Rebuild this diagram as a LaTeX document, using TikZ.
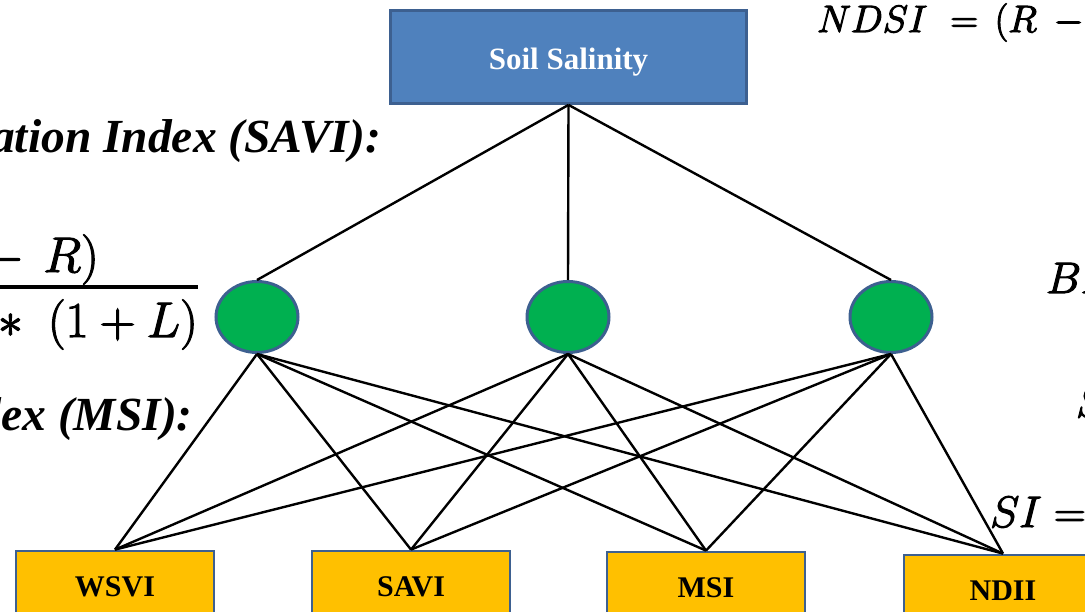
\RequirePackage{fix-cm}
\documentclass[tikz,border=0pt]{standalone}
\usepackage[no-math]{fontspec}
\setmainfont{Liberation Serif}
\usetikzlibrary{shapes.geometric}

\definecolor{soilblue}{HTML}{4F81BD}
\definecolor{edgeblue}{HTML}{3D6090}
\definecolor{hubgreen}{HTML}{00B050}
\definecolor{boxgold}{HTML}{FFC000}

% formulas set with a thin outline so the glyphs come out a little heavier
\newcommand\heavyglyphs[1]{%
  \special{pdf:literal direct 2 Tr 1.1 w}#1\special{pdf:literal direct 0 Tr}}

\tikzset{
  soilbox/.style={draw=edgeblue, line width=2.8, fill=soilblue, inner sep=0,
    minimum width=356, minimum height=93, text=white,
    text height=26, text depth=0,
    font=\bfseries\fontsize{31}{33}\selectfont},
  hub/.style={ellipse, draw=edgeblue, line width=3, fill=hubgreen, inner sep=0,
    minimum width=82, minimum height=71},
  idxbox/.style={draw=edgeblue, line width=2.8, fill=boxgold, inner sep=0,
    minimum width=198, minimum height=72,
    font=\bfseries\fontsize{30}{32}\selectfont},
  link/.style={draw=black, line width=2.4},
  slidehead/.style={font=\bfseries\itshape\fontsize{47.5}{52}\selectfont, inner sep=0},
  slidemath/.style={inner sep=0},
}

\begin{document}
\begin{tikzpicture}[x=1pt, y=-1pt]
  \useasboundingbox (0,0) rectangle (1085,612);
  \clip (0,0) rectangle (1085,612);

  % text of the slide behind the diagram
  \node[slidehead, anchor=base east] (savihead) at (381,153)
    {Soil Adjusted Vegetation Index (SAVI):};
  \node[slidehead, anchor=base east] (msihead) at (193,430)
    {Moisture Stress Index (MSI):};
  \node[slidemath, anchor=base east, font=\fontsize{50}{54}\selectfont]
    (savinum) at (99,272) {\heavyglyphs{$(NIR\mskip3mu-\mskip3mu R)$}};
  \draw[line width=3.4] (0,287) -- (198,287);
  \node[slidemath, anchor=base east, font=\fontsize{50}{54}\selectfont]
    (saviden) at (198,337) {\heavyglyphs{$(NIR+R+L)*\;(1+L)$}};
  \node[slidemath, anchor=base west, font=\fontsize{38}{42}\selectfont]
    (ndsi) at (817,32) {\heavyglyphs{$NDSI\mskip6mu=\mskip3mu(R\mskip4mu-\mskip4mu G)$}};
  \node[slidemath, anchor=base west, font=\fontsize{44}{48}\selectfont]
    (bi) at (1046,293) {\heavyglyphs{$BI$}};
  \node[slidemath, anchor=base west, font=\fontsize{44}{48}\selectfont]
    (s) at (1076,417) {\heavyglyphs{$S$}};
  \node[slidemath, anchor=base west, font=\fontsize{44}{48}\selectfont]
    (si) at (990,527) {\heavyglyphs{$SI=$}};

  % hierarchy
  \node[soilbox] (soil) at (568.5,57) {Soil Salinity};

  \node[hub] (h1) at (257,317) {};
  \node[hub] (h2) at (568,317) {};
  \node[hub] (h3) at (891,317) {};

  \node[idxbox] (wsvi) at (115,587) {WSVI};
  \node[idxbox] (savi) at (411,587) {SAVI};
  \node[idxbox] (msi)  at (706,588) {MSI};
  \node[idxbox] (ndii) at (1003,591) {NDII};

  \foreach \h in {h1,h2,h3}
    \draw[link] (soil.south) -- (\h.north);
  \foreach \h in {h1,h2,h3}
    \foreach \b in {wsvi,savi,msi,ndii}
      \draw[link] (\h.south) -- (\b.north);
\end{tikzpicture}
\end{document}
